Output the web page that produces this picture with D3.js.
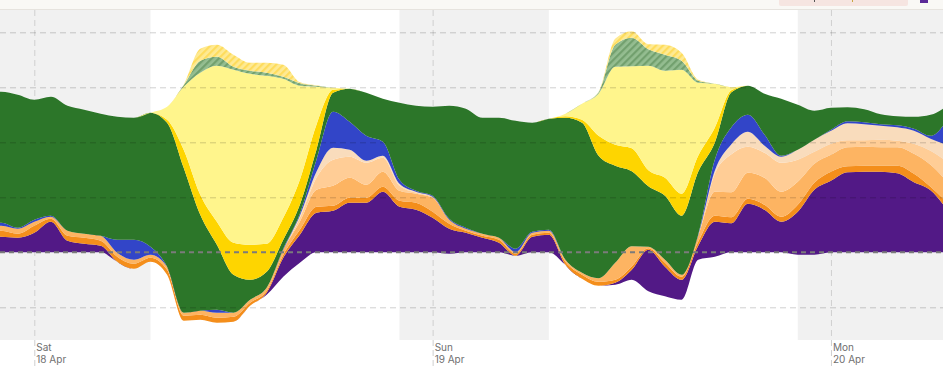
<!DOCTYPE html>
<html>
<head>
<meta charset="utf-8">
<script src="https://cdn.jsdelivr.net/npm/d3@7"></script>
<style>
  html, body { margin: 0; padding: 0; background: #fff; }
  svg { display: block; font-family: Inter, "DejaVu Sans", sans-serif; }
</style>
</head>
<body>
<svg id="chart"></svg>
<script>
// hourly points, Fri 17 Apr 21:00 -> Mon 20 Apr 07:00
var startTime = new Date(2020, 3, 17, 21);
var endTime = new Date(2020, 3, 20, 8);
var times = d3.timeHour.range(startTime, endTime);

// MW, stacked bottom -> top
var exports = [0,0,0,0,0,0,0,0,-190,-330,
  -190,-450,-1370,-1350,-1410,-1390,-1070,-850,-490,-210,
  0,0,0,0,0,0,0,0,-30,0,
  0,0,-70,0,0,-250,-530,-670,-650,-550,
  -780,-880,-950,-150,-90,0,0,0,0,-50,
  -50,0,0,0,0,0,0,0,0];
var imports = [310,310,290,390,610,230,170,130,0,0,
  0,0,0,0,0,0,0,40,380,560,
  790,830,990,990,1210,910,850,690,500,390,
  290,190,0,310,350,0,0,0,40,200,
  830,590,400,280,700,580,970,850,610,860,
  1300,1430,1600,1610,1610,1580,1400,1240,850];
var gasSteam = [120,120,80,140,60,100,120,100,100,100,
  80,100,100,100,100,100,60,40,60,100,
  120,100,100,100,100,120,140,120,100,40,
  40,60,40,40,40,60,80,80,60,70,
  30,80,60,80,120,120,100,100,100,140,
  140,180,120,120,120,150,170,70,140];
var gasCCGT = [100,100,100,80,40,100,80,100,80,80,
  60,60,60,80,100,80,60,60,100,160,
  340,400,400,260,300,200,180,280,80,40,
  40,40,30,40,40,40,40,70,340,400,
  30,60,40,120,480,500,520,540,500,460,
  380,340,380,380,370,370,400,440,420];
var gasOCGT = [0,0,0,0,0,0,0,0,0,0,
  0,0,0,0,0,0,0,0,0,80,
  240,520,420,440,280,100,20,20,0,0,
  0,0,0,0,0,0,0,0,0,0,
  0,0,0,0,360,760,520,500,580,440,
  240,220,140,130,150,130,200,280,400];
var gasRecip = [0,0,0,0,0,0,0,0,0,0,
  0,0,0,0,0,0,0,0,0,40,
  120,240,140,40,40,40,20,0,0,0,
  0,0,0,0,0,0,0,0,0,0,
  0,0,0,0,60,200,300,140,120,200,
  240,260,340,320,280,270,260,240,340];
var battery = [60,60,20,40,20,0,0,0,260,400,
  160,0,0,0,60,0,0,0,20,40,
  240,720,560,500,280,80,20,20,20,20,
  0,0,70,20,20,0,0,0,0,0,
  0,0,0,20,220,340,340,220,20,0,
  0,20,40,40,30,40,40,60,500];
var wind = [2620,2620,2660,2400,2380,2500,2480,2440,2460,2440,
  2680,2880,2900,1920,1300,760,400,320,180,180,
  200,380,660,860,860,1540,1700,1780,2260,2380,
  2320,2400,2560,2180,2220,2840,3000,2450,1940,1500,
  1210,1280,1180,1260,340,700,580,820,1140,900,
  580,440,280,260,200,180,240,420,280];
var solarUtility = [0,0,0,0,0,0,0,0,0,0,
  0,60,360,400,460,640,700,560,440,500,
  500,60,0,0,0,0,0,0,0,0,
  0,0,0,0,0,30,60,400,420,460,
  320,360,440,320,300,40,0,0,0,0,
  0,0,0,0,0,0,0,0,0];
var solarRooftop = [0,0,0,0,0,0,0,0,0,0,
  0,260,1260,2440,3120,3460,3420,3360,2780,1880,
  760,40,0,0,0,0,0,0,0,0,
  0,0,0,0,0,50,320,840,1560,1640,
  2090,2140,2480,1460,880,60,0,0,0,0,
  0,0,0,0,0,0,0,0,0];
var windCurtailment = [0,0,0,0,0,0,0,0,0,0,
  0,0,30,240,180,60,60,60,40,50,
  20,0,0,0,0,0,0,0,0,0,
  0,0,0,0,0,0,0,30,440,570,
  330,320,180,40,0,0,0,0,0,0,
  0,0,0,0,0,0,0,0,0];
var solarCurtailment = [0,0,0,0,0,0,0,0,0,0,
  0,0,10,240,240,240,160,200,240,20,
  10,0,0,0,0,0,0,0,0,0,
  0,0,0,0,0,0,0,10,120,130,
  100,200,160,20,0,0,0,0,0,0,
  0,0,0,0,0,0,0,0,0];

var dayTicks = [new Date(2020, 3, 18), new Date(2020, 3, 19), new Date(2020, 3, 20)];
var nights = [
  [new Date(2020, 3, 17, 21), new Date(2020, 3, 18, 7)],
  [new Date(2020, 3, 18, 22), new Date(2020, 3, 19, 7)],
  [new Date(2020, 3, 19, 22), new Date(2020, 3, 20, 7)]
];
var gridValues = [-1100, 1100, 2200, 3300, 4400];

var keys = ["exports", "imports", "gasSteam", "gasCCGT", "gasOCGT", "gasRecip",
  "battery", "wind", "solarUtility", "solarRooftop", "windCurtailment", "solarCurtailment"];
var colours = {
  exports: "none",
  imports: "#521986",
  gasSteam: "#F48E1B",
  gasCCGT: "#FDB462",
  gasOCGT: "#FFCD96",
  gasRecip: "#F9DCBC",
  battery: "#3245C8",
  wind: "#2C7629",
  solarUtility: "#FED500",
  solarRooftop: "#FFF58C",
  windCurtailment: "url(#hatchWind)",
  solarCurtailment: "url(#hatchSolar)"
};

var table = times.map(function(t, i) {
  return {
    time: t,
    exports: exports[i], imports: imports[i], gasSteam: gasSteam[i],
    gasCCGT: gasCCGT[i], gasOCGT: gasOCGT[i], gasRecip: gasRecip[i],
    battery: battery[i], wind: wind[i], solarUtility: solarUtility[i],
    solarRooftop: solarRooftop[i], windCurtailment: windCurtailment[i],
    solarCurtailment: solarCurtailment[i]
  };
});

var width = 943, height = 366,
    plotTop = 10, plotBottom = 340;

var svg = d3.select("#chart")
    .attr("width", width)
    .attr("height", height);

var defs = svg.append("defs");

function hatch(id, base, stripe) {
  var p = defs.append("pattern")
      .attr("id", id)
      .attr("patternUnits", "userSpaceOnUse")
      .attr("width", 5)
      .attr("height", 5)
      .attr("patternTransform", "rotate(45)");
  p.append("rect").attr("width", 5).attr("height", 5).attr("fill", base);
  p.append("rect").attr("width", 2.2).attr("height", 5).attr("fill", stripe);
}
hatch("hatchWind", "#94bd90", "#72a06e");
hatch("hatchSolar", "#feea94", "#fedc5c");

defs.append("clipPath")
    .attr("id", "plotClip")
  .append("rect")
    .attr("x", 0)
    .attr("y", plotTop)
    .attr("width", width)
    .attr("height", plotBottom - plotTop);

var x = d3.scaleTime()
    .domain([new Date(2020, 3, 17, 21, 56), new Date(2020, 3, 20, 6, 45)])
    .range([0, width]);

var y = d3.scaleLinear()
    .domain([-1754, 4846])
    .range([plotBottom, plotTop]);

// top toolbar strip (cut off)
svg.append("rect")
    .attr("x", 0).attr("y", 0)
    .attr("width", width).attr("height", 9)
    .attr("fill", "#f9f8f5");
svg.append("line")
    .attr("x1", 0).attr("x2", width)
    .attr("y1", 9.5).attr("y2", 9.5)
    .attr("stroke", "#e6e3de");
svg.append("rect")
    .attr("x", 779).attr("y", -3)
    .attr("width", 129).attr("height", 9)
    .attr("rx", 2)
    .attr("fill", "#f6e5e1");
svg.append("rect")
    .attr("x", 814).attr("y", 0).attr("width", 1).attr("height", 2)
    .attr("fill", "#555");
svg.append("rect")
    .attr("x", 852).attr("y", 0).attr("width", 1).attr("height", 2)
    .attr("fill", "#c9a640");
svg.append("rect")
    .attr("x", 920).attr("y", 0).attr("width", 8).attr("height", 3)
    .attr("fill", "#5b2a98");

// background: night shading + midnight lines (under the areas)
var back = svg.append("g");

back.append("g")
    .attr("clip-path", "url(#plotClip)")
  .selectAll(".night")
    .data(nights)
    .enter()
    .append("rect")
      .attr("class", "night")
      .attr("x", function(d) { return x(d[0]); })
      .attr("y", plotTop)
      .attr("width", function(d) { return x(d[1]) - x(d[0]); })
      .attr("height", plotBottom - plotTop)
      .attr("fill", "#f1f1f1");

var xAxis = d3.axisBottom(x)
    .tickValues(dayTicks)
    .tickSize(height - plotTop)
    .tickFormat("");

var xg = back.append("g")
    .attr("transform", "translate(0," + plotTop + ")")
    .call(xAxis);
xg.select(".domain").remove();
xg.selectAll(".tick line")
    .attr("stroke", "#cfcfcf")
    .attr("stroke-dasharray", "6,4");

// stacked areas
var stack = d3.stack()
    .keys(keys)
    .order(d3.stackOrderNone)
    .offset(d3.stackOffsetNone);
var series = stack(table);

var area = d3.area()
    .curve(d3.curveMonotoneX)
    .x(function(d) { return x(d.data.time); })
    .y0(function(d) { return y(d[0]); })
    .y1(function(d) { return y(d[1]); });

svg.append("g")
    .attr("clip-path", "url(#plotClip)")
  .selectAll(".layer")
    .data(series.filter(function(s) { return s.key !== "exports"; }))
    .enter()
    .append("path")
      .attr("class", "layer")
      .attr("d", area)
      .attr("fill", function(s) { return colours[s.key]; });

// gridlines sit over the areas
var gridlines = d3.axisLeft(y)
    .tickValues(gridValues)
    .tickFormat("")
    .tickSize(-width);

var gg = svg.append("g")
    .attr("class", "grid")
    .call(gridlines);
gg.select(".domain").remove();
gg.selectAll(".tick line")
    .attr("stroke", "#000")
    .attr("stroke-opacity", 0.19)
    .attr("stroke-dasharray", "6,4");

svg.append("line")
    .attr("x1", 0).attr("x2", width)
    .attr("y1", y(0)).attr("y2", y(0))
    .attr("stroke", "#7b7b7b")
    .attr("stroke-width", 2)
    .attr("stroke-dasharray", "5,4");

// day labels
var labels = svg.selectAll(".daylabel")
    .data(dayTicks)
    .enter()
    .append("text")
      .attr("class", "daylabel")
      .attr("x", function(d) { return x(d) + 2; })
      .attr("font-size", 10)
      .attr("fill", "#6f6f6f");
labels.append("tspan")
    .attr("y", 350.5)
    .text(function(d) { return d3.timeFormat("%a")(d); });
labels.append("tspan")
    .attr("x", function(d) { return x(d) + 2; })
    .attr("y", 362.5)
    .text(function(d) { return d3.timeFormat("%-d %b")(d); });
</script>
</body>
</html>
